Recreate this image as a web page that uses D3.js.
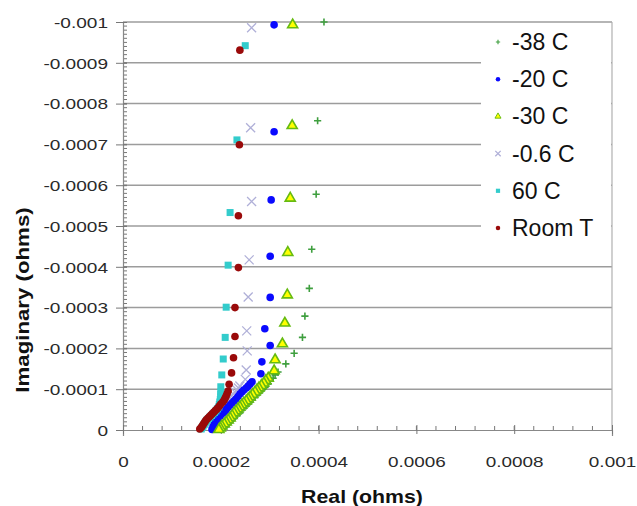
<!DOCTYPE html>
<html>
<head>
<meta charset="utf-8">
<script src="https://cdn.jsdelivr.net/npm/d3@7"></script>
<style>
  body { margin: 0; background: #fff; }
  svg { display: block; font-family: "Liberation Sans", Arial, sans-serif; }
</style>
</head>
<body>
<div id="chart"></div>
<script>
// series names, in legend order
const seriesNames = ["-38 C", "-20 C", "-30 C", "-0.6 C", "60 C", "Room T"];

// [real, imaginary] in ohms
const minus38 = [[0.000411,-0.001000],[0.000398,-0.000758],[0.000395,-0.000578],[0.000386,-0.000443],[0.000381,-0.000347],[0.000372,-0.000279],[0.000367,-0.000227],[0.000350,-0.000188],[0.000333,-0.000162],
  [0.000317,-0.000142],[0.000311,-0.000135],[0.000307,-0.000127],[0.000301,-0.000120],[0.000297,-0.000113],[0.000290,-0.000105],[0.000286,-0.000100],[0.000282,-0.0000956],[0.000278,-0.0000907],[0.000274,-0.0000858],[0.000270,-0.0000809],[0.000264,-0.0000735],[0.000260,-0.0000686],[0.000256,-0.0000637],[0.000252,-0.0000588],[0.000247,-0.0000539],[0.000243,-0.0000490],[0.000239,-0.0000417],[0.000233,-0.0000368],[0.000229,-0.0000319],[0.000225,-0.0000270],[0.000221,-0.0000221],[0.000217,-0.0000172],[0.000213,-0.0000123],[0.000209,-0.0000074],[0.000205,-0.0000025]];
const minus20 = [[0.000309,-0.000993],[0.000309,-0.000731],[0.000303,-0.000564],[0.000301,-0.000426],[0.000301,-0.000325],[0.000290,-0.000248],[0.000301,-0.000207],[0.000284,-0.000167],[0.000282,-0.000138],
  [0.000264,-0.000118],[0.000260,-0.000113],[0.000256,-0.000108],[0.000252,-0.000103],[0.000247,-0.0000980],[0.000243,-0.0000931],[0.000239,-0.0000882],[0.000235,-0.0000821],[0.000231,-0.0000760],[0.000227,-0.0000711],[0.000223,-0.0000662],[0.000219,-0.0000613],[0.000215,-0.0000564],[0.000212,-0.0000515],[0.000209,-0.0000466],[0.000205,-0.0000417],[0.000200,-0.0000368],[0.000197,-0.0000319],[0.000194,-0.0000270],[0.000191,-0.0000221],[0.000188,-0.0000172],[0.000186,-0.0000123],[0.000184,-0.0000074],[0.000182,-0.0000012]];
const minus30 = [[0.000347,-0.000993],[0.000346,-0.000746],[0.000342,-0.000568],[0.000337,-0.000435],[0.000336,-0.000331],[0.000331,-0.000262],[0.000326,-0.000211],[0.000311,-0.000172],[0.000309,-0.000145],
  [0.000297,-0.000127],[0.000292,-0.000121],[0.000288,-0.000115],[0.000283,-0.000109],[0.000278,-0.000103],[0.000274,-0.0000980],[0.000270,-0.0000931],[0.000265,-0.0000870],[0.000260,-0.0000809],[0.000256,-0.0000760],[0.000252,-0.0000711],[0.000247,-0.0000662],[0.000243,-0.0000613],[0.000239,-0.0000564],[0.000235,-0.0000515],[0.000231,-0.0000466],[0.000227,-0.0000417],[0.000223,-0.0000355],[0.000219,-0.0000294],[0.000215,-0.0000245],[0.000211,-0.0000196],[0.000207,-0.0000147],[0.000202,-0.0000098],[0.000199,-0.0000049],[0.000196,-0.0000010]];
const minus06 = [[0.000263,-0.000986],[0.000261,-0.000741],[0.000263,-0.000560],[0.000258,-0.000417],[0.000256,-0.000326],[0.000253,-0.000243],[0.000254,-0.000194],[0.000252,-0.000147],[0.000250,-0.000124],
  [0.000239,-0.000108],[0.000236,-0.000103],[0.000233,-0.0000980],[0.000229,-0.0000931],[0.000225,-0.0000882],[0.000221,-0.0000833],[0.000217,-0.0000784],[0.000214,-0.0000735],[0.000211,-0.0000686],[0.000206,-0.0000637],[0.000202,-0.0000588],[0.000199,-0.0000539],[0.000196,-0.0000490],[0.000193,-0.0000441],[0.000190,-0.0000392],[0.000187,-0.0000343],[0.000184,-0.0000294],[0.000181,-0.0000245],[0.000178,-0.0000196],[0.000175,-0.0000147],[0.000172,-0.0000098]];
const plus60 = [[0.000250,-0.000942],[0.000233,-0.000711],[0.000219,-0.000533],[0.000215,-0.000404],[0.000211,-0.000301],[0.000209,-0.000227],[0.000205,-0.000174],[0.000202,-0.000135],[0.000200,-0.000106],
  [0.000200,-0.0000931],[0.000200,-0.0000870],[0.000200,-0.0000809],[0.000199,-0.0000747],[0.000198,-0.0000686],[0.000197,-0.0000625],[0.000196,-0.0000564],[0.000193,-0.0000515],[0.000190,-0.0000466],[0.000187,-0.0000429],[0.000184,-0.0000392],[0.000181,-0.0000355],[0.000178,-0.0000319],[0.000175,-0.0000282],[0.000172,-0.0000245],[0.000170,-0.0000208],[0.000168,-0.0000172],[0.000166,-0.0000135],[0.000164,-0.0000098],[0.000162,-0.0000061],[0.000160,-0.0000025]];
const roomT = [[0.000239,-0.000931],[0.000238,-0.000699],[0.000236,-0.000525],[0.000236,-0.000398],[0.000229,-0.000300],[0.000229,-0.000229],[0.000226,-0.000177],[0.000222,-0.000140],[0.000217,-0.000112],
  [0.000215,-0.0000956],[0.000213,-0.0000895],[0.000211,-0.0000833],[0.000209,-0.0000784],[0.000207,-0.0000735],[0.000204,-0.0000686],[0.000200,-0.0000637],[0.000197,-0.0000588],[0.000194,-0.0000539],[0.000191,-0.0000502],[0.000188,-0.0000466],[0.000185,-0.0000429],[0.000182,-0.0000392],[0.000179,-0.0000355],[0.000176,-0.0000319],[0.000173,-0.0000282],[0.000170,-0.0000245],[0.000168,-0.0000208],[0.000166,-0.0000172],[0.000164,-0.0000135],[0.000162,-0.0000098],[0.000160,-0.0000061],[0.000157,-0.0000025]];

// tick values and labels
const xTicks = [0, 0.0002, 0.0004, 0.0006, 0.0008, 0.001];
const xTickLabels = ["0", "0.0002", "0.0004", "0.0006", "0.0008", "0.001"];
const yTicks = [0, -0.0001, -0.0002, -0.0003, -0.0004, -0.0005, -0.0006, -0.0007, -0.0008, -0.0009, -0.001];
const yTickLabels = ["0", "-0.0001", "-0.0002", "-0.0003", "-0.0004", "-0.0005", "-0.0006", "-0.0007", "-0.0008", "-0.0009", "-0.001"];

const series = [
  { name: seriesNames[0], data: minus38, shape: "plus", color: "#3f9f3f" },
  { name: seriesNames[1], data: minus20, shape: "circle", color: "#0a0aff" },
  { name: seriesNames[2], data: minus30, shape: "triangle", color: "#66bb11", fill: "#ffff00" },
  { name: seriesNames[3], data: minus06, shape: "cross", color: "#b0b0d8" },
  { name: seriesNames[4], data: plus60, shape: "square", color: "#33cccc" },
  { name: seriesNames[5], data: roomT, shape: "circle", color: "#9a0a0a" }
];
// crosses sit underneath the blue dots in the picture
const drawOrder = [3, 0, 1, 2, 4, 5];

const width = 637, height = 506;
const svg = d3.select("#chart").append("svg")
  .attr("width", width)
  .attr("height", height);

const x = d3.scaleLinear().domain([0, 0.001]).range([123, 612]);
const y = d3.scaleLinear().domain([0, -0.001]).range([430, 22]);

// the picture is stretched sideways, so stretch the text the same way
function stretch(sel, f) {
  sel.each(function () {
    const len = this.getComputedTextLength();
    d3.select(this).attr("textLength", len * f).attr("lengthAdjust", "spacingAndGlyphs");
  });
}

// gridlines
svg.append("g").selectAll("line")
  .data(yTicks.filter(d => d !== 0))
  .join("line")
  .attr("x1", x(0)).attr("x2", x(0.001))
  .attr("y1", d => y(d)).attr("y2", d => y(d))
  .attr("stroke", "#9c9c9c")
  .attr("stroke-width", 1.5);

// right border of the plot
svg.append("line")
  .attr("x1", x(0.001)).attr("x2", x(0.001))
  .attr("y1", y(-0.001)).attr("y2", y(0))
  .attr("stroke", "#b0b0b0").attr("stroke-width", 1.2);

// legend background covers the gridlines
const legendBox = { x: 481, y: 23, w: 130, h: 228 };
svg.append("rect")
  .attr("x", legendBox.x).attr("y", legendBox.y)
  .attr("width", legendBox.w).attr("height", legendBox.h)
  .attr("fill", "#fff");

// minor ticks
svg.append("g").selectAll("line")
  .data(d3.range(1, 100).map(i => -i * 0.00001))
  .join("line")
  .attr("x1", x(0)).attr("x2", x(0) + 4)
  .attr("y1", d => y(d)).attr("y2", d => y(d))
  .attr("stroke", "#777");
svg.append("g").selectAll("line")
  .data(d3.range(1, 25).map(i => i * 0.00004))
  .join("line")
  .attr("x1", d => x(d)).attr("x2", d => x(d))
  .attr("y1", y(0) - 4).attr("y2", y(0))
  .attr("stroke", "#777");

// y axis
const yAxisG = svg.append("g")
  .attr("transform", "translate(" + x(0) + ",0)")
  .call(d3.axisLeft(y).tickValues(yTicks).tickFormat((d, i) => yTickLabels[i]).tickSize(6));
yAxisG.select(".domain").attr("stroke", "#888").attr("stroke-width", 1.2);
yAxisG.selectAll(".tick line").attr("x1", -7).attr("x2", 4).attr("stroke", "#777");
yAxisG.selectAll(".tick text")
  .attr("x", -15).attr("dy", "0.35em")
  .attr("font-size", 15).attr("fill", "#2a2a2a")
  .call(stretch, 1.27);

// x axis
const xAxisG = svg.append("g")
  .attr("transform", "translate(0," + y(0) + ")")
  .call(d3.axisBottom(x).tickValues(xTicks).tickFormat((d, i) => xTickLabels[i]).tickSize(6));
xAxisG.select(".domain").attr("stroke", "#888").attr("stroke-width", 1.2);
xAxisG.selectAll(".tick line").attr("y1", -5).attr("y2", 4).attr("stroke", "#777");
xAxisG.selectAll(".tick text")
  .attr("y", 37).attr("dy", 0)
  .attr("font-size", 15).attr("fill", "#2a2a2a")
  .call(stretch, 1.26);

// markers
function drawMarker(g, s, k) {
  if (s.shape === "plus") {
    g.append("path").attr("d", `M${-3.6 * k},0H${3.6 * k}M0,${-3.6 * k}V${3.6 * k}`)
      .attr("stroke", s.color).attr("stroke-width", 1.6 * Math.max(k, 0.7)).attr("fill", "none");
  } else if (s.shape === "cross") {
    g.append("path").attr("d", `M${-4.5 * k},${-4.5 * k}L${4.5 * k},${4.5 * k}M${-4.5 * k},${4.5 * k}L${4.5 * k},${-4.5 * k}`)
      .attr("stroke", s.color).attr("stroke-width", 1.3).attr("fill", "none");
  } else if (s.shape === "circle") {
    g.append("circle").attr("r", 3.8 * k).attr("fill", s.color);
  } else if (s.shape === "square") {
    g.append("rect").attr("x", -3.5 * k).attr("y", -3.5 * k)
      .attr("width", 7 * k).attr("height", 7 * k).attr("fill", s.color);
  } else if (s.shape === "triangle") {
    g.append("path").attr("d", d3.symbol(d3.symbolTriangle).size(44 * k * k)())
      .attr("fill", s.fill).attr("stroke", s.color).attr("stroke-width", 1.6 * k);
  }
}

drawOrder.forEach(i => {
  const s = series[i];
  const g = svg.append("g");
  g.selectAll("g")
    .data(s.data)
    .join("g")
    .attr("transform", d => "translate(" + x(d[0]) + "," + y(d[1]) + ")")
    .each(function () { drawMarker(d3.select(this), s, 1); });
});

// legend
const legend = svg.append("g");
series.forEach((s, i) => {
  const cy = 42 + i * 37.2;
  const item = legend.append("g").attr("transform", "translate(498," + cy + ")");
  drawMarker(item, s, 0.6);
  legend.append("text")
    .attr("x", 512).attr("y", cy + 8)
    .attr("font-size", 23).attr("fill", "#111")
    .text(s.name);
});

// axis titles
svg.append("text")
  .attr("x", 362).attr("y", 503)
  .attr("text-anchor", "middle")
  .attr("font-size", 19).attr("font-weight", "bold").attr("fill", "#111")
  .text("Real (ohms)")
  .call(stretch, 1.12);

svg.append("text")
  .attr("transform", "translate(29,300) rotate(-90)")
  .attr("text-anchor", "middle")
  .attr("font-size", 19).attr("font-weight", "bold").attr("fill", "#111")
  .text("Imaginary (ohms)")
  .call(stretch, 1.17);
</script>
</body>
</html>
